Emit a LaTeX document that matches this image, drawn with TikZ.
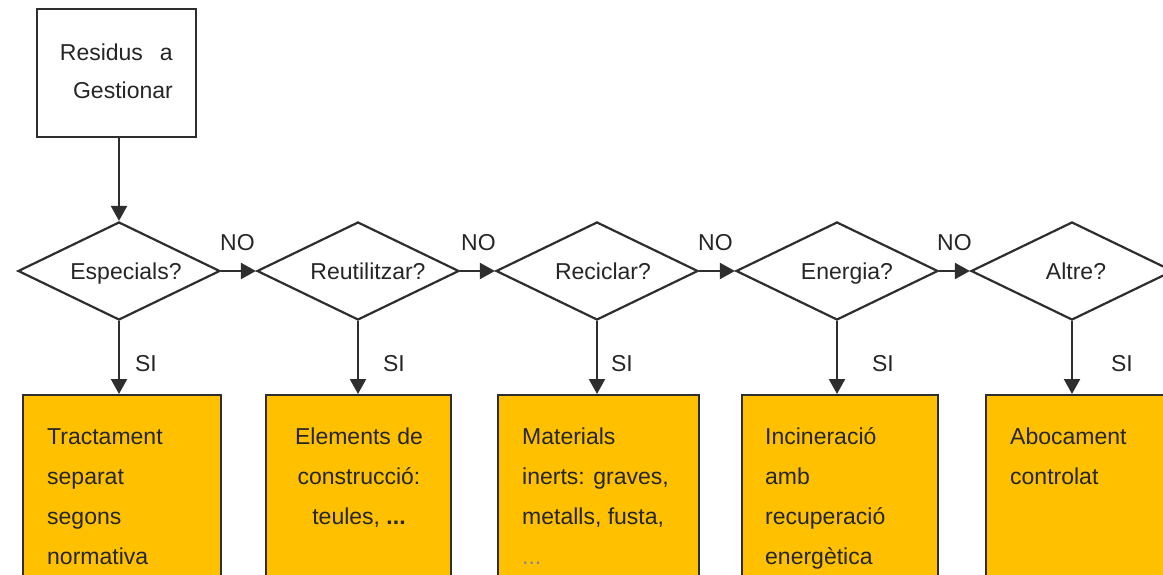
\documentclass[tikz,border=0pt]{standalone}
\usepackage{fontspec}
\setmainfont{Liberation Sans}
\usetikzlibrary{shapes.geometric,arrows.meta,calc}
\definecolor{gold}{HTML}{FFC000}
\definecolor{ink}{HTML}{262626}
\definecolor{edgec}{HTML}{2E2E2E}
\newcommand{\dfont}{\fontsize{23}{40}\selectfont}
\newcommand{\tfont}{\fontsize{23}{38}\selectfont}
\begin{document}
\begin{tikzpicture}[x=1pt,y=-1pt,
  conn/.style={draw=edgec, line width=2.2pt, -{Triangle[length=15pt,width=16pt]}},
  startbox/.style={draw=edgec, line width=2.2pt, fill=white, minimum width=159pt, minimum height=128pt, inner sep=0pt},
  decision/.style={diamond, draw=edgec, line width=2.2pt, minimum width=202pt, minimum height=98pt, inner sep=0pt, aspect=2},
  outbox/.style={draw=edgec, line width=2.2pt, fill=gold, anchor=north, minimum height=230pt, inner sep=0pt},
  btext/.style={anchor=north west, inner sep=0pt, align=left, font=\dfont, text=ink},
  lab/.style={inner sep=0pt, font=\dfont, text=ink},
]
\useasboundingbox (0,0) rectangle (1163,575);
\clip (0,0) rectangle (1163,575);
\fill[white] (0,0) rectangle (1163,575);

% start box
\node[startbox] (start) at (116.5,73) {};
\node[anchor=north east, inner sep=0pt, align=right, font=\tfont, text=ink] (starttext) at (173,33.4) {\strut Residus\hspace{17pt}a\\Gestionar};

% decisions
\node[decision, label={[lab, xshift=7pt, yshift=-3pt]center:Especials?}] (d1) at (119,271) {};
\node[decision, label={[lab, xshift=10pt]center:Reutilitzar?}] (d2) at (358,271) {};
\node[decision, label={[lab, xshift=6pt]center:Reciclar?}] (d3) at (597,271) {};
\node[decision, label={[lab, xshift=10pt, yshift=-3pt]center:Energia?}] (d4) at (837,271) {};
\node[decision, label={[lab, xshift=4pt]center:Altre?}] (d5) at (1072,271) {};

% outcome boxes
\node[outbox, minimum width=198pt] (b1) at (122,394) {};
\node[outbox, minimum width=185pt] (b2) at (358.5,394) {};
\node[outbox, minimum width=201pt] (b3) at (598.5,394) {};
\node[outbox, minimum width=196pt] (b4) at (840,394) {};
\node[outbox, minimum width=200pt] (b5) at (1086,394) {};

% box texts
\node[btext] (t1) at (47,416) {\strut Tractament\\separat\\segons\\normativa};
\node[btext, anchor=north, align=center] (t2) at (359,416) {\strut Elements de\\construcció:\\teules, \textbf{...}};
\node[btext] (t3) at (522,416) {\strut Materials\\inerts: graves,\\metalls, fusta,\\\textcolor{ink!55}{...}};
\node[btext] (t4) at (765,416) {\strut Incineració\\amb\\recuperació\\energètica};
\node[btext] (t5) at (1010,416) {\strut Abocament\\controlat};

% connectors
\draw[conn] (d1.north |- start.south) -- (d1.north);
\draw[conn] (d1.east) -- (d2.west);
\draw[conn] (d2.east) -- (d3.west);
\draw[conn] (d3.east) -- (d4.west);
\draw[conn] (d4.east) -- (d5.west);
\draw[conn] (d1.south) -- (d1.south |- b1.north);
\draw[conn] (d2.south) -- (d2.south |- b2.north);
\draw[conn] (d3.south) -- (d3.south |- b3.north);
\draw[conn] (d4.south) -- (d4.south |- b4.north);
\draw[conn] (d5.south) -- (d5.south |- b5.north);

% NO labels
\node[lab, anchor=west] (n1) at (220,243) {NO};
\node[lab, anchor=west] (n2) at (461,243) {NO};
\node[lab, anchor=west] (n3) at (698,243) {NO};
\node[lab, anchor=west] (n4) at (937,243) {NO};

% SI labels
\node[lab] (s1) at (146,364) {SI};
\node[lab] (s2) at (394,364) {SI};
\node[lab] (s3) at (622,364) {SI};
\node[lab] (s4) at (883,364) {SI};
\node[lab] (s5) at (1122,364) {SI};
\end{tikzpicture}
\end{document}
